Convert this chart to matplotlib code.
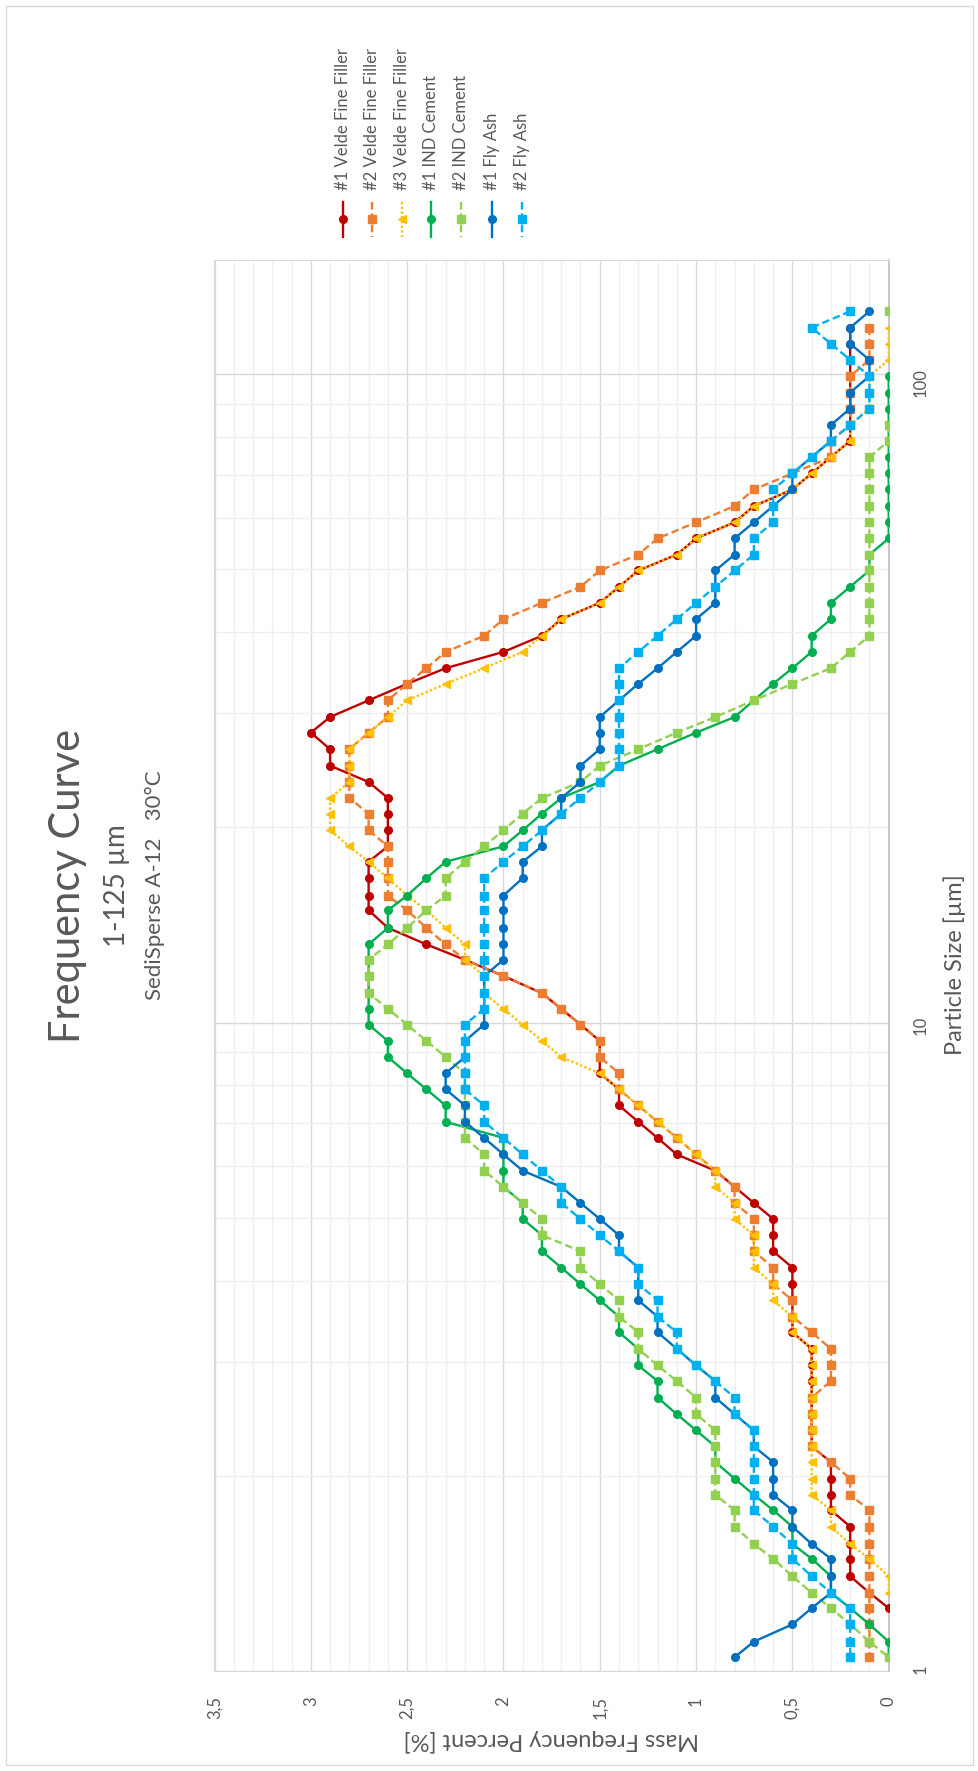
import numpy as np
import matplotlib
matplotlib.use('Agg')
import matplotlib.pyplot as plt
from matplotlib.lines import Line2D
from matplotlib.patches import Rectangle
from matplotlib.ticker import FixedLocator, LogLocator, NullFormatter

plt.rcParams['font.family'] = ['Lato', 'DejaVu Sans']

N = None

# particle size classes [um], coarse -> fine
sizes_um = [125, 118, 111.4, 105.2, 99.3, 93.7, 88.5, 83.5, 78.9, 74.5,
            70.3, 66.4, 62.6, 59.1, 55.8, 52.7, 49.8, 47.0, 44.4, 41.9,
            39.5, 37.3, 35.2, 33.3, 31.4, 29.6, 28.0, 26.4, 24.9, 23.5,
            22.2, 21.0, 19.8, 18.7, 17.7, 16.7, 15.7, 14.9, 14.0, 13.2,
            12.5, 11.8, 11.1, 10.5, 9.93, 9.37, 8.85, 8.35, 7.89, 7.45,
            7.03, 6.64, 6.26, 5.91, 5.58, 5.27, 4.98, 4.70, 4.44, 4.19,
            3.95, 3.73, 3.52, 3.33, 3.14, 2.96, 2.80, 2.64, 2.49, 2.35,
            2.22, 2.10, 1.98, 1.87, 1.77, 1.67, 1.57, 1.49, 1.40, 1.32,
            1.25, 1.18, 1.11, 1.05]

# mass frequency percent for each sample
velde_1 = [N, 0.2, 0.2, 0.2, 0.2, 0.2, 0.2, 0.2, 0.2, 0.3,
           0.4, 0.5, 0.7, 0.8, 1.0, 1.1, 1.3, 1.4, 1.5, 1.7,
           1.8, 2.0, 2.3, 2.5, 2.7, 2.9, 3.0, 2.9, 2.9, 2.7,
           2.6, 2.6, 2.6, 2.6, 2.7, 2.7, 2.7, 2.7, 2.6, 2.4,
           2.2, 2.0, 1.8, 1.7, 1.6, 1.5, 1.5, 1.5, 1.4, 1.4,
           1.3, 1.2, 1.1, 0.9, 0.8, 0.7, 0.6, 0.6, 0.6, 0.5,
           0.5, 0.5, 0.5, 0.5, 0.4, 0.4, 0.4, 0.4, 0.4, 0.4,
           0.4, 0.3, 0.3, 0.3, 0.3, 0.2, 0.2, 0.2, 0.2, 0.1,
           0.0, N, N, N]

velde_2 = [N, 0.1, 0.1, 0.1, 0.2, 0.2, 0.2, 0.2, 0.3, 0.3,
           0.5, 0.7, 0.8, 1.0, 1.2, 1.3, 1.5, 1.6, 1.8, 2.0,
           2.1, 2.3, 2.4, 2.5, 2.6, 2.6, 2.7, 2.8, 2.8, 2.8,
           2.8, 2.7, 2.7, 2.6, 2.6, 2.6, 2.6, 2.5, 2.4, 2.3,
           2.2, 2.0, 1.8, 1.7, 1.6, 1.5, 1.5, 1.4, 1.4, 1.3,
           1.2, 1.1, 1.0, 0.9, 0.8, 0.8, 0.7, 0.7, 0.7, 0.6,
           0.6, 0.5, 0.5, 0.4, 0.3, 0.3, 0.3, 0.4, 0.4, 0.4,
           0.4, 0.3, 0.2, 0.2, 0.1, 0.1, 0.1, 0.1, 0.1, 0.1,
           0.1, 0.1, 0.1, 0.1]

velde_3 = [N, 0.0, 0.0, 0.0, 0.1, 0.1, 0.1, 0.2, 0.2, 0.3,
           0.4, 0.5, 0.7, 0.8, 1.0, 1.1, 1.3, 1.4, 1.5, 1.7,
           1.8, 1.9, 2.1, 2.3, 2.5, 2.6, 2.7, 2.8, 2.8, 2.8,
           2.9, 2.9, 2.9, 2.8, 2.7, 2.6, 2.5, 2.4, 2.3, 2.2,
           2.2, 2.1, 2.1, 2.0, 1.9, 1.8, 1.7, 1.5, 1.4, 1.3,
           1.2, 1.1, 1.0, 0.9, 0.9, 0.8, 0.8, 0.7, 0.7, 0.7,
           0.6, 0.6, 0.5, 0.5, 0.4, 0.4, 0.4, 0.4, 0.4, 0.4,
           0.4, 0.4, 0.4, 0.4, 0.3, 0.3, 0.2, 0.1, 0.0, 0.0,
           N, N, N, N]

cement_1 = [N, N, N, N, 0.0, 0.0, 0.0, 0.0, 0.0, 0.0,
            0.0, 0.0, 0.0, 0.0, 0.0, 0.1, 0.1, 0.2, 0.3, 0.3,
            0.4, 0.4, 0.5, 0.6, 0.7, 0.8, 1.0, 1.2, 1.4, 1.5,
            1.7, 1.8, 1.9, 2.0, 2.3, 2.4, 2.5, 2.6, 2.6, 2.7,
            2.7, 2.7, 2.7, 2.7, 2.7, 2.6, 2.6, 2.5, 2.4, 2.3,
            2.3, 2.0, 2.0, 2.0, 2.0, 1.9, 1.9, 1.8, 1.8, 1.7,
            1.6, 1.5, 1.4, 1.4, 1.3, 1.3, 1.2, 1.2, 1.1, 1.0,
            0.9, 0.9, 0.8, 0.7, 0.6, 0.5, 0.5, 0.4, 0.3, 0.3,
            0.2, 0.1, 0.0, 0.0]

cement_2 = [0.0, N, N, N, N, N, N, 0.0, 0.0, 0.1,
            0.1, 0.1, 0.1, 0.1, 0.1, 0.1, 0.1, 0.1, 0.1, 0.1,
            0.1, 0.2, 0.3, 0.5, 0.7, 0.9, 1.1, 1.3, 1.5, 1.6,
            1.8, 1.9, 2.0, 2.1, 2.2, 2.3, 2.3, 2.4, 2.5, 2.6,
            2.7, 2.7, 2.7, 2.6, 2.5, 2.4, 2.3, 2.2, 2.2, 2.2,
            2.2, 2.2, 2.1, 2.1, 2.0, 1.9, 1.8, 1.8, 1.6, 1.6,
            1.5, 1.4, 1.4, 1.3, 1.3, 1.2, 1.1, 1.0, 1.0, 0.9,
            0.9, 0.9, 0.9, 0.9, 0.8, 0.8, 0.7, 0.6, 0.5, 0.4,
            0.3, 0.2, 0.1, 0.0]

flyash_1 = [0.1, 0.2, 0.2, 0.1, 0.1, 0.2, 0.2, 0.3, 0.3, 0.4,
            0.5, 0.5, 0.6, 0.7, 0.8, 0.8, 0.9, 0.9, 0.9, 1.0,
            1.0, 1.1, 1.2, 1.3, 1.4, 1.5, 1.5, 1.5, 1.6, 1.6,
            1.7, 1.7, 1.8, 1.8, 1.9, 1.9, 2.0, 2.0, 2.0, 2.0,
            2.0, 2.1, 2.1, 2.1, 2.1, 2.2, 2.2, 2.3, 2.3, 2.2,
            2.2, 2.1, 2.0, 1.9, 1.7, 1.6, 1.5, 1.4, 1.4, 1.3,
            1.3, 1.3, 1.2, 1.2, 1.1, 1.0, 0.9, 0.9, 0.8, 0.7,
            0.7, 0.6, 0.6, 0.6, 0.5, 0.5, 0.4, 0.3, 0.3, 0.3,
            0.4, 0.5, 0.7, 0.8]

flyash_2 = [0.2, 0.4, 0.3, 0.2, 0.1, 0.1, 0.1, 0.2, 0.3, 0.4,
            0.5, 0.6, 0.6, 0.6, 0.7, 0.7, 0.8, 0.9, 1.0, 1.1,
            1.2, 1.3, 1.4, 1.4, 1.4, 1.4, 1.4, 1.4, 1.4, 1.5,
            1.6, 1.7, 1.8, 1.9, 2.0, 2.1, 2.1, 2.1, 2.1, 2.1,
            2.1, 2.1, 2.1, 2.1, 2.2, 2.2, 2.2, 2.2, 2.2, 2.1,
            2.1, 2.0, 1.9, 1.8, 1.7, 1.7, 1.6, 1.5, 1.4, 1.3,
            1.3, 1.2, 1.2, 1.1, 1.1, 1.0, 0.9, 0.8, 0.8, 0.7,
            0.7, 0.7, 0.7, 0.7, 0.7, 0.6, 0.5, 0.5, 0.4, 0.3,
            0.2, 0.2, 0.2, 0.2]

labels = ['#1 Velde Fine Filler', '#2 Velde Fine Filler', '#3 Velde Fine Filler',
          '#1 IND Cement', '#2 IND Cement', '#1 Fly Ash', '#2 Fly Ash']
colors = ['#C00000', '#ED7D31', '#FFC000', '#00B050', '#92D050', '#0070C0', '#00B0F0']
markers = ['o', 's', '<', 'o', 's', 'o', 's']
dash = (0, (3.2, 1.6))
dot = (0, (1, 1))
styles = ['-', dash, dot, '-', dash, '-', dash]
data = [velde_1, velde_2, velde_3, cement_1, cement_2, flyash_1, flyash_2]

W, H = 979, 1771
txt = '#595959'

fig = plt.figure(figsize=(W / 100, H / 100), dpi=100)
ax = fig.add_axes([214.5 / W, 1 - 1671 / H, (888.7 - 214.5) / W, (1671 - 260) / H])

# chart is drawn turned a quarter turn: percent runs right->left, size bottom->top
for i in range(len(data)):
    ax.plot(np.array(data[i], dtype=float), sizes_um, color=colors[i],
            marker=markers[i], markersize=5.5, linestyle=styles[i],
            linewidth=1.7, zorder=3 + i)

ax.set_yscale('log')
ax.set_ylim(1, 150)
ax.set_xlim(3.5, 0)

ax.xaxis.set_major_locator(FixedLocator(np.arange(0, 3.51, 0.5)))
ax.xaxis.set_minor_locator(FixedLocator(np.arange(0, 3.51, 0.1)))
ax.set_xticklabels(['0', '0,5', '1', '1,5', '2', '2,5', '3', '3,5'])
ax.yaxis.set_major_locator(FixedLocator([1, 10, 100]))
ax.yaxis.set_minor_locator(LogLocator(base=10, subs=np.arange(2, 10)))
ax.yaxis.set_minor_formatter(NullFormatter())
ax.set_yticklabels(['1', '10', '100'])
ax.yaxis.tick_right()

ax.tick_params(which='both', length=0)
ax.tick_params(axis='x', labelrotation=90, labelsize=12, labelcolor=txt, pad=18)
ax.tick_params(axis='y', labelrotation=90, labelsize=12, labelcolor=txt, pad=17)

ax.set_axisbelow(True)
ax.grid(which='major', color='#D9D9D9', linewidth=1.0)
ax.grid(which='minor', color='#EFEFEF', linewidth=0.9)
for s in ['left', 'bottom', 'top']:
    ax.spines[s].set_color('#D9D9D9')
ax.spines['right'].set_color('#BFBFBF')
ax.spines['right'].set_linewidth(1.2)

# titles
fig.text(68 / W, 0.5, 'Frequency Curve', rotation=90, ha='center', va='center',
         fontsize=30, color=txt)
fig.text(117 / W, 0.5, '1-125 µm', rotation=90, ha='center', va='center',
         fontsize=20, color=txt)
fig.text(155 / W, 0.5, 'SediSperse A-12   30°C', rotation=90, ha='center', va='center',
         fontsize=16, color=txt)

fig.text(551 / W, 1 - 1740 / H, 'Mass Frequency Percent [%]', rotation=180,
         ha='center', va='center', fontsize=17, color=txt)
fig.text(955 / W, 1 - 965 / H, 'Particle Size [µm]', rotation=90,
         ha='center', va='center', fontsize=17, color=txt)

# legend, one column per series
leg_x = [343, 372, 402, 431, 461, 492, 522]
for i in range(len(labels)):
    x = leg_x[i] / W
    fig.text(x, 1 - 190 / H, labels[i], rotation=90, ha='center', va='bottom',
             fontsize=12, color=txt)
    fig.add_artist(Line2D([x, x], [1 - 202 / H, 1 - 237 / H], color=colors[i],
                          linestyle=styles[i], linewidth=1.7, transform=fig.transFigure))
    fig.add_artist(Line2D([x], [1 - 219 / H], color=colors[i], marker=markers[i],
                          markersize=5.5, linestyle='none', transform=fig.transFigure))

fig.add_artist(Rectangle((6 / W, 6 / H), (W - 12) / W, (H - 12) / H, fill=False,
                         edgecolor='#D9D9D9', linewidth=1, transform=fig.transFigure))

fig.savefig('out.png', dpi=100)
